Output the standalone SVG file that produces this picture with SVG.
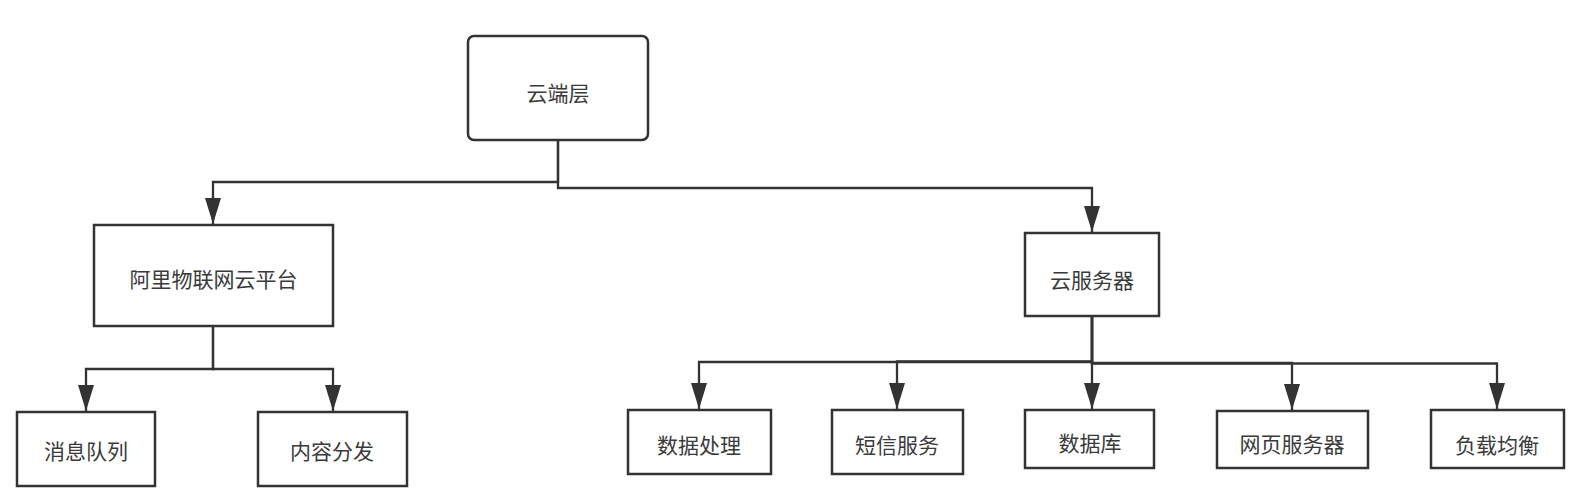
<svg xmlns="http://www.w3.org/2000/svg" width="1577" height="499" viewBox="0 0 1577 499">
<style>
.box{fill:#fff;stroke:#333;stroke-width:2.5}
.lbl{font-family:"Liberation Sans","Noto Sans CJK SC",sans-serif;font-size:21px;fill:#3a3a3a;text-anchor:middle;dominant-baseline:central}
.con{fill:none;stroke:#333;stroke-width:2.3;marker-end:url(#arr)}
</style>
<defs>
<marker id="arr" markerUnits="userSpaceOnUse" markerWidth="26" markerHeight="16" viewBox="0 0 26 16" refX="26" refY="8" orient="auto">
<path d="M0,0 L26,8 L0,16 Z" fill="#333"/>
</marker>
</defs>
<rect width="1577" height="499" fill="#fff"/>
<g id="connectors">
<path class="con" d="M558,140 V182 H213 V224"/>
<path class="con" d="M558,140 V188 H1092 V232"/>
<path class="con" d="M213,326 V369 H86 V411"/>
<path class="con" d="M213,326 V369 H333 V411"/>
<path class="con" d="M1092,316 V362 H699 V409"/>
<path class="con" d="M1092,316 V361.5 H897 V409"/>
<path class="con" d="M1092,316 V409"/>
<path class="con" d="M1092,316 V363 H1292 V410"/>
<path class="con" d="M1092,316 V363.5 H1497 V409"/>
</g>
<g id="n-cloud">
<rect class="box" x="468" y="36" width="180" height="104" rx="6"/>
<text class="lbl" x="558" y="93">云端层</text>
</g>
<g id="n-aliyun">
<rect class="box" x="94" y="225" width="239" height="101"/>
<text class="lbl" x="213.5" y="279">阿里物联网云平台</text>
</g>
<g id="n-server">
<rect class="box" x="1025" y="233" width="134" height="83"/>
<text class="lbl" x="1092" y="280">云服务器</text>
</g>
<g id="n-mq">
<rect class="box" x="17" y="412" width="138" height="74"/>
<text class="lbl" x="86" y="451">消息队列</text>
</g>
<g id="n-cdn">
<rect class="box" x="258" y="412" width="149" height="74"/>
<text class="lbl" x="332" y="451">内容分发</text>
</g>
<g id="n-proc">
<rect class="box" x="628" y="410" width="143" height="64"/>
<text class="lbl" x="699" y="445">数据处理</text>
</g>
<g id="n-sms">
<rect class="box" x="832" y="410" width="131" height="64"/>
<text class="lbl" x="897" y="445">短信服务</text>
</g>
<g id="n-db">
<rect class="box" x="1025" y="410" width="129" height="58"/>
<text class="lbl" x="1090" y="443">数据库</text>
</g>
<g id="n-web">
<rect class="box" x="1217" y="411" width="151" height="57"/>
<text class="lbl" x="1292" y="444">网页服务器</text>
</g>
<g id="n-lb">
<rect class="box" x="1431" y="410" width="133" height="58"/>
<text class="lbl" x="1497" y="445">负载均衡</text>
</g>
</svg>
